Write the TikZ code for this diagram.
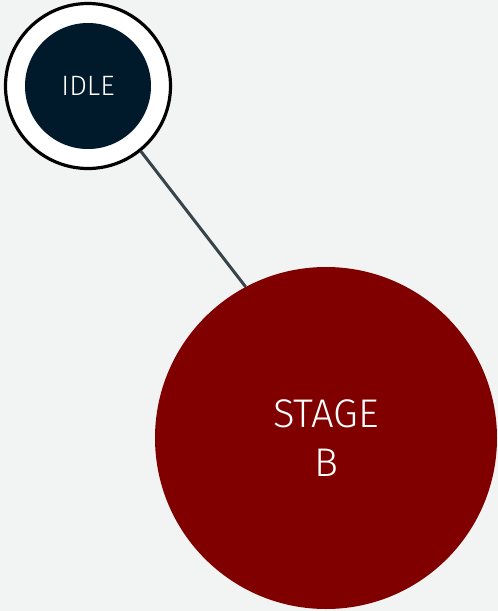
\documentclass[tikz,border=0pt]{standalone}
\usepackage{fontspec}
\setmainfont{Fira Sans}[UprightFont=* Light]
\usetikzlibrary{positioning}
\definecolor{bg_color}{RGB}{242, 244, 243}
\definecolor{idle_color}{RGB}{1, 26, 43}
\definecolor{stage_color}{RGB}{128, 0, 0}
\definecolor{link_color}{RGB}{55, 68, 75}

\begin{document}
\begin{tikzpicture}[x=1pt, y=-1pt]

      % 1. Fondo
      \fill[bg_color] (0,0) rectangle (498,611);
      \useasboundingbox (0,0) rectangle (498,611);

      % 2. Estados
      \node[circle, draw=black, line width=3.2pt, fill=white, minimum size=165pt] (idle) at (88,86) {};
      \node[circle, fill=idle_color, minimum size=126pt, text=white, font=\fontsize{28}{32}\selectfont] (idlecore) at (idle) {IDLE};

      \node[circle, fill=stage_color, minimum size=342pt, text=white, align=center, font=\fontsize{40}{49}\selectfont] (stageb) at (326,438) {STAGE\\B};

      % 3. Conector
      \draw[line width=3pt, link_color] (idle.-51) -- (stageb.118);

\end{tikzpicture}
\end{document}
